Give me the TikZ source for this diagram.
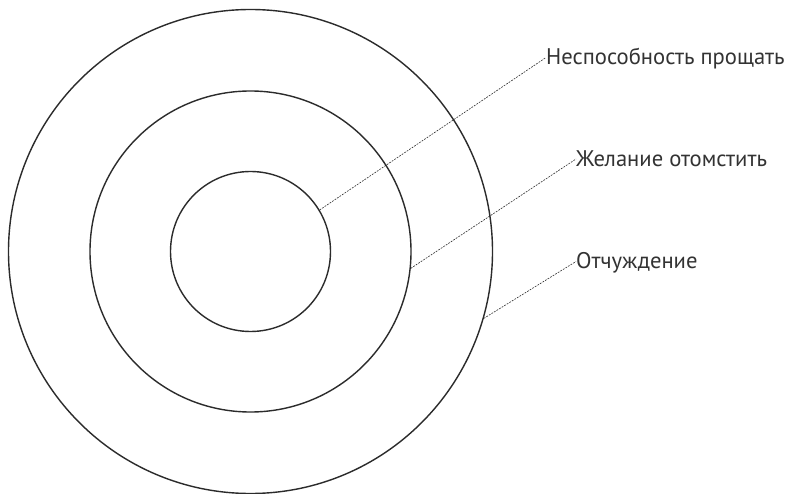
\documentclass[tikz,border=0pt]{standalone}
\usepackage{fontspec}
\setmainfont{PT Sans}
\definecolor{ink}{HTML}{2B2B2B}
\definecolor{txt}{HTML}{333333}
\begin{document}
\begin{tikzpicture}[x=1pt,y=-1pt,
  ring/.style={circle,draw=ink,line width=1.4pt,inner sep=0pt},
  lead/.style={draw=ink,line width=0.6pt,dash pattern=on 1.8pt off 1.2pt},
  lbl/.style={anchor=base west,inner sep=0pt,text height=15pt,text depth=0pt,text=txt,font=\fontsize{22.6}{26}\selectfont}]
\useasboundingbox[fill=white] (0,0) rectangle (787,494);
\node[ring,minimum size=484pt] (outer) at (250.5,251.5) {};
\node[ring,minimum size=321pt] (middle) at (250.5,251.5) {};
\node[ring,minimum size=160pt] (inner) at (250.5,251.5) {};
\node[lbl] (t1) at (546,65) {Неспособность прощать};
\node[lbl] (t2) at (576,166.5) {Желание отомстить};
\node[lbl] (t3) at (576,269) {Отчуждение};
\draw[lead] (inner.31.6) -- (t1.west);
\draw[lead] (middle.-6.4) -- (t2.west);
\draw[lead] (outer.-16.7) -- (t3.west);
\end{tikzpicture}
\end{document}
